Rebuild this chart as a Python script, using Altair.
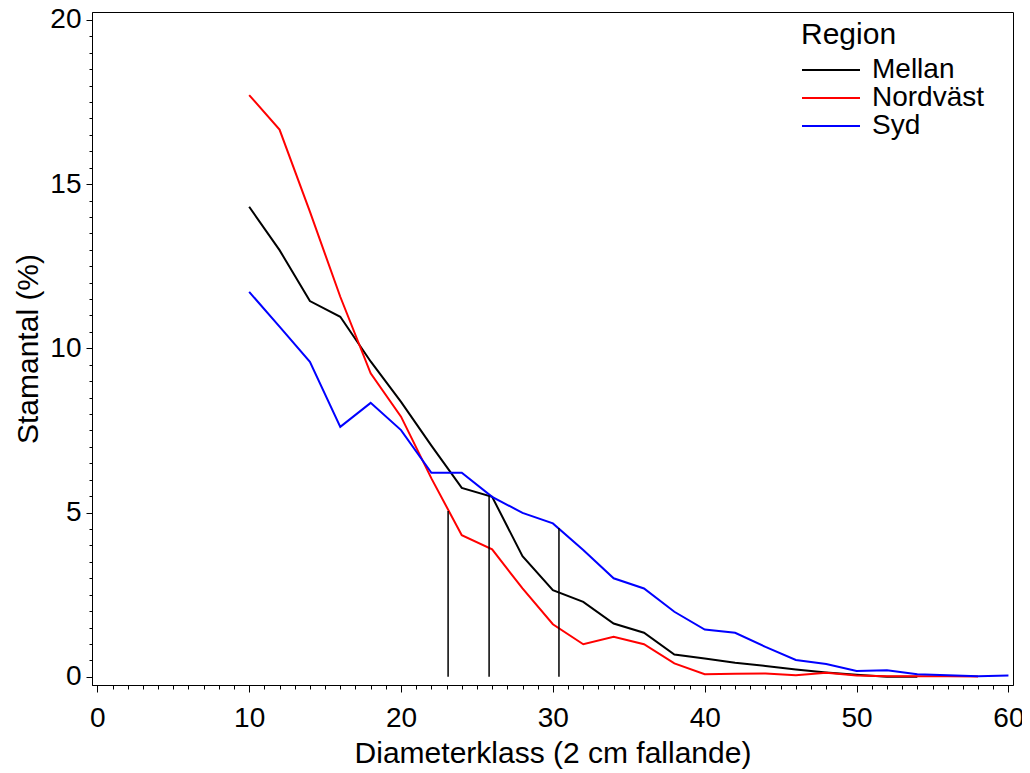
import altair as alt
import pandas as pd

# ---- data ----
mellan_x = [10, 12, 14, 16, 18, 20, 22, 24, 26, 28, 30, 32, 34, 36, 38, 40, 42, 44, 46, 48, 50, 52, 54]
mellan_y = [14.31, 12.99, 11.44, 10.96, 9.60, 8.37, 7.04, 5.75, 5.48, 3.67, 2.64, 2.28, 1.62, 1.34,
            0.68, 0.56, 0.43, 0.33, 0.22, 0.13, 0.06, 0.0, 0.0]

nordvast_x = [10, 12, 14, 16, 18, 20, 22, 24, 26, 28, 30, 32, 34, 36, 38, 40, 42, 44, 46, 48, 50, 52, 54, 56, 58]
nordvast_y = [17.71, 16.66, 14.16, 11.57, 9.24, 7.92, 6.04, 4.31, 3.88, 2.69, 1.60, 0.99, 1.22, 0.99,
              0.41, 0.08, 0.09, 0.10, 0.05, 0.12, 0.04, 0.02, 0.02, 0.02, 0.01]

syd_x = [10, 12, 14, 16, 18, 20, 22, 24, 26, 28, 30, 32, 34, 36, 38, 40, 42, 44, 46, 48, 50, 52, 54, 56, 58, 60]
syd_y = [11.72, 10.66, 9.59, 7.61, 8.34, 7.51, 6.21, 6.21, 5.48, 4.99, 4.67, 3.86, 3.00, 2.69,
         1.98, 1.44, 1.34, 0.91, 0.51, 0.39, 0.18, 0.20, 0.08, 0.05, 0.02, 0.04]

regions = ["Mellan", "Nordväst", "Syd"]
region_colors = ["#000000", "#ff0000", "#0000ff"]

median_x = [23.1, 25.8, 30.4]
median_top = [5.05, 5.53, 4.53]

x_major = [0, 10, 20, 30, 40, 50, 60]
x_minor = list(range(0, 61, 1))
y_major = [0, 5, 10, 15, 20]
y_minor = [i / 2 for i in range(0, 41)]

rows = []
for name, xs, ys in [("Mellan", mellan_x, mellan_y), ("Nordväst", nordvast_x, nordvast_y), ("Syd", syd_x, syd_y)]:
    for a, b in zip(xs, ys):
        rows.append({"d": a, "v": b, "Region": name})
df = pd.DataFrame(rows)
med = pd.DataFrame({"d": median_x, "v0": [0] * len(median_x), "v": median_top})

FONT = "Liberation Sans"
xscale = alt.Scale(domain=[-0.35, 60.3], nice=False, zero=False)
yscale = alt.Scale(domain=[-0.25, 20.24], nice=False, zero=False)

lines = alt.Chart(df).mark_line(strokeWidth=2).encode(
    x=alt.X("d:Q", scale=xscale,
            axis=alt.Axis(orient="bottom", values=x_major, tickSize=7, labelFontSize=28,
                          title="Diameterklass (2 cm fallande)", titleFontSize=30,
                          titleFontWeight="normal", labelPadding=12, titlePadding=6,
                          grid=False, domainColor="black", tickColor="black",
                          labelColor="black", titleColor="black")),
    y=alt.Y("v:Q", scale=yscale,
            axis=alt.Axis(orient="left", values=y_major, tickSize=6, labelFontSize=28,
                          title="Stamantal (%)", titleFontSize=30, titleFontWeight="normal",
                          labelPadding=5, titlePadding=6, grid=False, domainColor="black",
                          tickColor="black", labelColor="black", titleColor="black")),
    color=alt.Color("Region:N",
                    scale=alt.Scale(domain=regions, range=region_colors),
                    legend=alt.Legend(orient="none", legendX=709, legendY=8,
                                      title="Region", titleFontSize=30, titleFontWeight="normal",
                                      labelFontSize=28, symbolType="stroke", symbolSize=3364,
                                      symbolStrokeWidth=2, labelOffset=11, titlePadding=6,
                                      clipHeight=28, rowPadding=0,
                                      titleColor="black", labelColor="black")),
    order="d:Q",
)

medians = alt.Chart(med).mark_rule(color="black", strokeWidth=1.5).encode(
    x=alt.X("d:Q", scale=xscale,
            axis=alt.Axis(orient="bottom", values=x_minor, tickSize=4, labels=False,
                          domain=False, grid=False, title="", tickColor="black")),
    y=alt.Y("v0:Q", scale=yscale,
            axis=alt.Axis(orient="left", values=y_minor, tickSize=3, labels=False,
                          domain=False, grid=False, title="", tickColor="black")),
    y2="v:Q",
)

chart = alt.layer(lines, medians).resolve_axis(x="independent", y="independent").properties(
    width=921, height=673, autosize="none",
    padding={"left": 84, "top": 4, "right": 9, "bottom": 85},
).configure(font=FONT).configure_view(stroke="black", strokeWidth=1)

chart.save("out.html", embed_options={"renderer": "svg", "actions": False})
